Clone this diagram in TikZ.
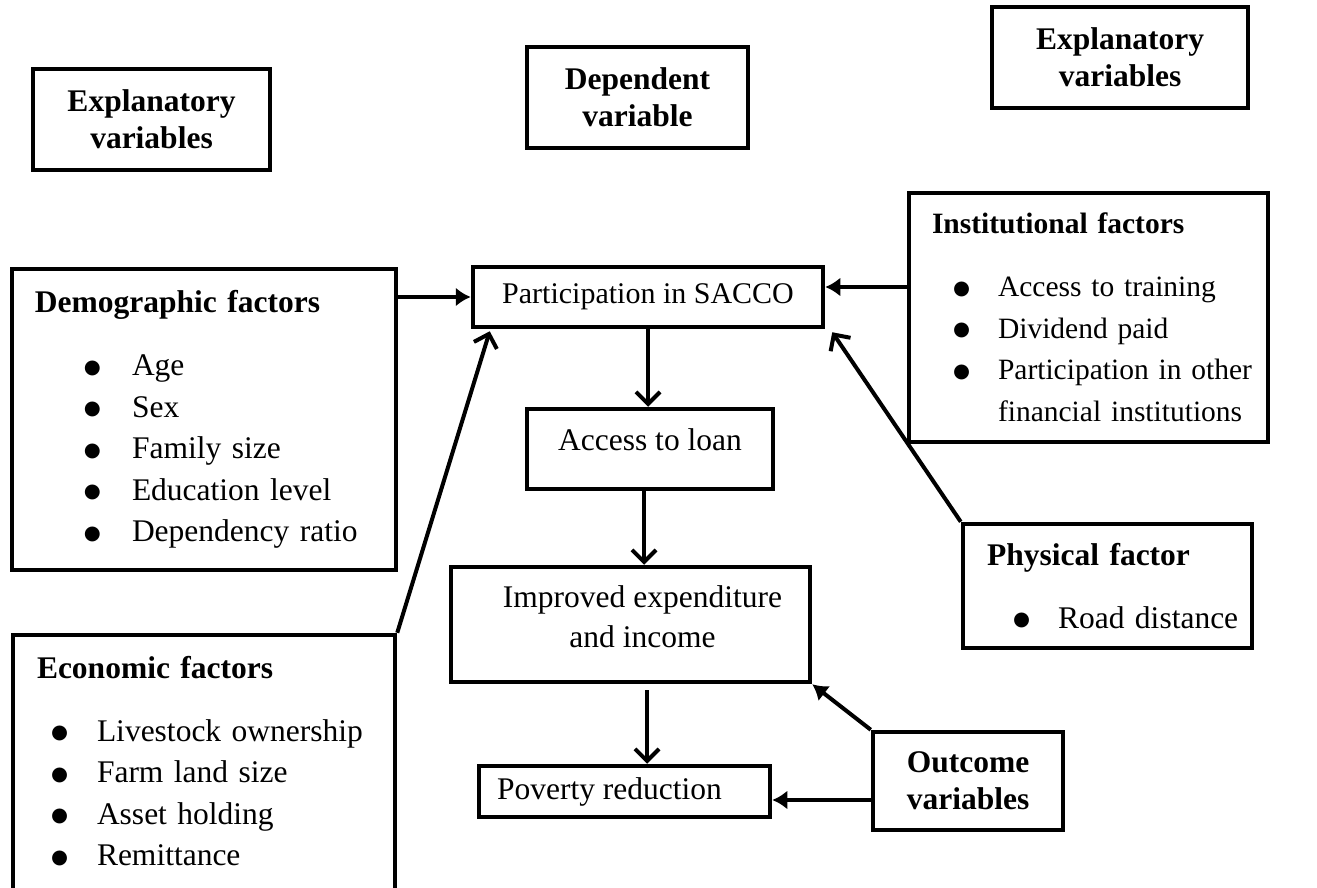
\documentclass[tikz,border=0pt]{standalone}
\usepackage{fontspec}
\setmainfont{Liberation Serif}
\newfontfamily\symfont{DejaVu Sans}
\usetikzlibrary{arrows.meta}

% big round bullet, as in the source lists
\newcommand{\dotmark}{\raisebox{2.5pt}{\symfont\fontsize{19.5}{0}\selectfont ●}}
% one bulleted line: indent, bullet width, text
\newcommand{\bitem}[3]{\hspace*{#1}\makebox[#2][l]{\dotmark}\mbox{#3}}

\begin{document}
\begin{tikzpicture}[x=1pt, y=-1pt,
		boxline/.style={draw, line width=4.5pt},
		headbox/.style={boxline, align=center, font=\bfseries\fontsize{31.5}{37}\selectfont},
		textbox/.style={boxline, align=center, font=\fontsize{31.5}{40}\selectfont},
		listbox/.style={boxline, align=left, inner sep=0pt, font=\fontsize{31.5}{41.5}\selectfont},
		barb/.style={line width=4pt, -{Straight Barb[length=12pt, width=24pt]}},
		tri/.style={line width=4pt, -{Latex[length=15pt, width=19pt]}}]
	
	\useasboundingbox (0,0) rectangle (1317,888);
	\clip (0,0) rectangle (1317,888);
	
	% headings
	\node[headbox, minimum width=237pt, minimum height=101pt] (explL) at (151.5,119.5) {Explanatory\\variables};
	\node[headbox, minimum width=221pt, minimum height=101pt] (dep) at (637.5,97.5) {Dependent\\variable};
	\node[headbox, minimum width=256pt, minimum height=101pt] (explR) at (1120,57.5) {Explanatory\\variables};
	
	% factor boxes
	\node[listbox, minimum height=301pt, text width=384pt] (demo) at (204,419.5) {%
		\hspace*{23pt}\textbf{Demographic factors}\\[21.5pt]
		\bitem{72pt}{48pt}{Age}\\
		\bitem{72pt}{48pt}{Sex}\\
		\bitem{72pt}{48pt}{Family size}\\
		\bitem{72pt}{48pt}{Education level}\\
		\bitem{72pt}{48pt}{Dependency ratio}};
	
	\node[listbox, font=\fontsize{29.5}{41.5}\selectfont, minimum height=249pt, text width=359pt] (inst) at (1088.5,317.5) {%
		\hspace*{23pt}\textbf{Institutional factors}\\[21.5pt]
		\bitem{44pt}{45pt}{Access to training}\\
		\bitem{44pt}{45pt}{Dividend paid}\\
		\bitem{44pt}{45pt}{Participation in other}\\
		\hspace*{89pt}\mbox{financial institutions}};
	
	\node[listbox, minimum height=124pt, text width=289pt] (phys) at (1107.5,586) {%
		\hspace*{24pt}\textbf{Physical factor}\\[21.5pt]
		\bitem{50pt}{45pt}{Road distance}};
	
	\node[listbox, minimum height=275pt, text width=382pt] (econ) at (204,772.5) {%
		\hspace*{24pt}\textbf{Economic factors}\\[21.5pt]
		\bitem{38pt}{46pt}{Livestock ownership}\\
		\bitem{38pt}{46pt}{Farm land size}\\
		\bitem{38pt}{46pt}{Asset holding}\\
		\bitem{38pt}{46pt}{Remittance\rule[-23.5pt]{0pt}{1pt}}};
	
	% middle chain
	\node[textbox, font=\fontsize{30}{40}\selectfont, minimum width=350pt, minimum height=60pt] (part) at (648,297) {Participation in SACCO};
	\node[textbox, minimum width=246pt, minimum height=80pt, text depth=19.5pt] (access) at (650,449) {Access to loan};
	\node[textbox, minimum width=359pt, minimum height=115pt] (impr) at (630.5,624.5) {\hspace*{24pt}Improved expenditure\\\hspace*{24pt}and income\rule[-15pt]{0pt}{1pt}};
	\node[textbox, minimum width=291pt, minimum height=51pt] (pov) at (624.5,791.5) {Poverty reduction\hspace*{30pt}};
	\node[headbox, minimum width=190pt, minimum height=98pt] (outc) at (968,781) {Outcome\\variables};
	
	% links
	\coordinate (ip) at ([xshift=16.5pt, yshift=-6pt]impr.south);
	\draw[tri] ([yshift=122.5pt]demo.east) -- (part.west);
	\draw[tri] ([yshift=30.5pt]inst.west) -- ([yshift=10pt]part.east);
	\draw[barb] (econ.north east) -- ([xshift=19pt, yshift=-2pt]part.south west);
	\draw[barb] (phys.north west) -- ([xshift=7pt, yshift=-3pt]part.south east);
	\draw[barb] (part.south) -- (part.south |- access.north);
	\draw[barb] ([xshift=-6pt]access.south) -- ([xshift=-6pt]access.south |- impr.north);
	\draw[barb] (ip) -- (ip |- pov.north);
	\draw[tri] (outc.north west) -- (impr.south east);
	\draw[tri] ([yshift=-19pt]outc.west) -- ([yshift=-8.5pt]pov.east);
	
\end{tikzpicture}
\end{document}
